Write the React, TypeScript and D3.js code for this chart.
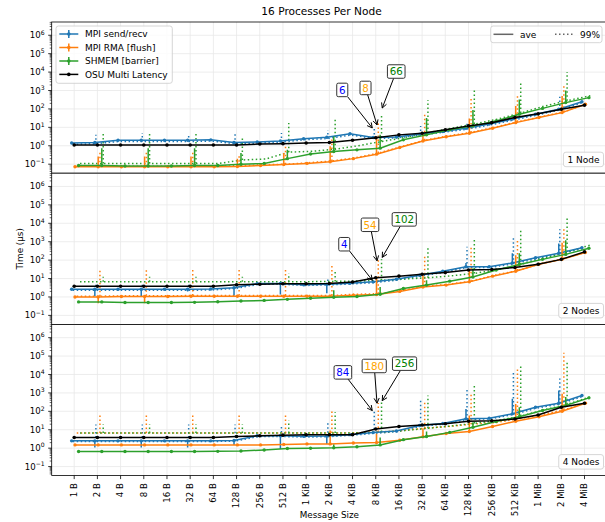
import React from 'react';
import * as d3 from 'd3';

// ---------------- DATA ----------------
const sizeLabels = ['1 B', '2 B', '4 B', '8 B', '16 B', '32 B', '64 B', '128 B', '256 B', '512 B',
  '1 KiB', '2 KiB', '4 KiB', '8 KiB', '16 KiB', '32 KiB', '64 KiB', '128 KiB', '256 KiB', '512 KiB',
  '1 MiB', '2 MiB', '4 MiB'];
const spikeIdx = [1, 3, 5, 7, 9, 11, 13, 15, 17, 19, 21];
const panelLabels = ['1 Node', '2 Nodes', '4 Nodes'];
const seriesNames = ['MPI send/recv', 'MPI RMA [flush]', 'SHMEM [barrier]', 'OSU Multi Latency'];
const styleNames = ['ave', '99%'];
const yTickExps = [-1, 0, 1, 2, 3, 4, 5, 6];

// 1 Node
const n1BlueAve = [1.4, 1.5, 2.0, 2.0, 2.0, 2.0, 2.1, 1.5, 1.6, 1.8, 2.4, 2.9, 4.5, 2.8, 3.0, 4.3, 6.0, 9, 15, 28, 51, 96, 245];
const n1BlueP99 = [1.2, 1.3, 1.7, 1.7, 1.7, 1.7, 1.8, 1.3, 1.4, 1.6, 2.1, 2.5, 3.8, 2.5, 2.7, 3.8, 5.4, 8, 13.5, 25, 46, 88, 225];
const n1OrangeAve = [0.072, 0.072, 0.072, 0.072, 0.072, 0.072, 0.072, 0.075, 0.085, 0.095, 0.11, 0.135, 0.2, 0.35, 0.8, 1.8, 3.1, 4.8, 9, 18, 34, 63, 178];
const n1OrangeP99 = [0.078, 0.078, 0.078, 0.078, 0.078, 0.078, 0.078, 0.082, 0.092, 0.1, 0.12, 0.15, 0.22, 0.4, 0.9, 2.0, 3.4, 5.3, 10, 20, 37, 70, 190];
const n1GreenAve = [0.085, 0.085, 0.08, 0.08, 0.08, 0.085, 0.085, 0.1, 0.11, 0.2, 0.36, 0.49, 0.6, 0.74, 2.1, 3.9, 7.3, 12, 22, 51, 107, 220, 410];
const n1GreenP99 = [0.11, 0.11, 0.11, 0.11, 0.11, 0.11, 0.11, 0.17, 0.19, 0.45, 0.5, 0.65, 1.0, 1.7, 2.8, 5, 9, 15, 28, 60, 140, 280, 520];
const n1Black = [1.1, 1.1, 1.1, 1.1, 1.1, 1.1, 1.1, 1.1, 1.25, 1.3, 1.4, 1.5, 2.0, 2.7, 3.9, 4.8, 7.3, 12, 18, 34, 54, 96, 160];
const n1BlueAveSpike = [null, null, null, null, null, null, null, null, null, null, null];
const n1BlueP99Spike = [3.9, 5, 4.5, 4.5, 5, 7, 11, 12, 20, 45, 460];
const n1OrangeAveSpike = [0.26, 0.26, 0.26, 0.2, 0.4, 0.93, 3.2, 5, 30, 145, 500];
const n1OrangeP99Spike = [0.5, 0.5, 0.5, 0.3, 0.9, 2.5, 16.6, 57, 457, 560, 2000];
const n1GreenAveSpike = [0.74, 0.74, 0.74, 0.4, 0.6, 3.2, 4, 32, 87, 330, 1000];
const n1GreenP99Spike = [4.8, 4.5, 4.5, 2.6, 17, 32, 57, 300, 1150, 2450, 10000];
const n1AnnoText = ['6', '8', '66'];
const n1AnnoValue = [9.3, 13.5, 112];

// 2 Nodes
const n2BlueAve = [2.6, 2.6, 2.6, 2.6, 2.6, 2.6, 2.7, 3.2, 5.3, 5.4, 4.6, 4.9, 5.6, 6.6, 9.1, 15, 25, 44, 44, 70, 135, 235, 470];
const n2BlueP99 = [2.3, 2.3, 2.3, 2.3, 2.3, 2.3, 2.4, 2.9, 4.8, 4.9, 4.2, 4.5, 5.1, 6.0, 8.3, 13.5, 22, 40, 40, 63, 120, 210, 430];
const n2OrangeAve = [1.0, 1.0, 1.05, 1.05, 1.05, 1.1, 1.1, 1.1, 1.1, 1.1, 1.1, 1.1, 1.25, 1.35, 2.0, 3.5, 4.4, 6.6, 13.5, 25, 60, 110, 260];
const n2OrangeP99 = [1.1, 1.1, 1.15, 1.15, 1.15, 1.2, 1.2, 1.2, 1.2, 1.2, 1.2, 1.2, 1.4, 1.5, 2.2, 3.8, 4.8, 7.2, 15, 27, 65, 120, 285];
const n2GreenAve = [0.54, 0.54, 0.5, 0.5, 0.5, 0.51, 0.55, 0.6, 0.65, 0.74, 0.85, 0.95, 1.05, 1.4, 2.9, 4.4, 7.2, 12, 29, 58, 110, 205, 440];
const n2GreenP99 = [6.6, 6.6, 6.6, 6.6, 6.6, 6.6, 6.6, 6.6, 6.6, 6.6, 6.8, 7, 7.3, 8, 9.5, 11, 14, 19, 30, 59, 130, 280, 660];
const n2Black = [3.8, 3.8, 3.8, 3.8, 3.8, 3.8, 3.8, 4.6, 4.9, 5.2, 5.2, 5.4, 6.5, 11, 13.5, 17, 21, 29, 31, 40, 60, 110, 280];
const n2BlueAveSpike = [1.1, 1.1, 2.0, 1.2, 1.35, 1.6, null, null, 70, 235, 810];
const n2BlueP99Spike = [5, 5, 5, 5, 5, 9, 10, 18.6, 540, 1860, 4800];
const n2OrangeAveSpike = [0.45, 0.45, null, null, null, null, 11, 18.6, 30, 186, 890];
const n2OrangeP99Spike = [29, 29, 29, 29, 29, 54, 110, 166, 540, 1500, 5400];
const n2GreenAveSpike = [null, null, null, null, null, 2.3, 3.5, 8, 35, 235, 1200];
const n2GreenP99Spike = [12.6, 12.6, 12.6, 12.6, 18.6, 25, 110, 440, 1350, 5400, 19000];
const n2AnnoText = ['4', '54', '102'];
const n2AnnoValue = [8.1, 92, 141];

// 4 Nodes
const n3BlueAve = [2.5, 2.5, 2.5, 2.5, 2.5, 2.5, 2.5, 2.6, 4.7, 4.7, 4.4, 4.6, 5.4, 7, 8.5, 17, 22, 39, 42, 73, 165, 275, 720];
const n3BlueP99 = [2.3, 2.3, 2.3, 2.3, 2.3, 2.3, 2.3, 2.4, 4.3, 4.3, 4.0, 4.2, 5.0, 6.4, 7.8, 15.5, 20, 36, 39, 67, 150, 255, 660];
const n3OrangeAve = [1.5, 1.5, 1.5, 1.5, 1.5, 1.5, 1.5, 1.5, 1.5, 1.6, 1.7, 1.7, 1.9, 2.0, 2.7, 4.2, 6.3, 8.1, 15, 29, 51, 100, 275];
const n3OrangeP99 = [6.6, 6.6, 6.6, 6.6, 6.6, 6.6, 6.6, 6.6, 6.6, 6.6, 6.6, 6.6, 6.8, 7.5, 9, 12, 15, 20, 24, 38, 65, 120, 300];
const n3GreenAve = [0.66, 0.66, 0.66, 0.66, 0.66, 0.66, 0.67, 0.7, 0.8, 0.96, 0.98, 1.05, 1.2, 1.5, 2.9, 4.3, 7.2, 13.5, 28, 51, 110, 205, 540];
const n3GreenP99 = [6.6, 6.6, 6.6, 6.6, 6.6, 6.6, 6.6, 6.6, 6.6, 6.6, 6.6, 6.6, 6.8, 7.5, 9, 12, 16, 22, 32, 55, 120, 240, 620];
const n3Black = [3.8, 3.8, 3.8, 3.8, 3.8, 3.8, 3.8, 4.3, 4.7, 5.1, 5.3, 5.3, 5.4, 11, 15, 18, 21, 29, 31, 38, 63, 165, 275];
const n3BlueAveSpike = [1.1, 1.1, 1.1, 1.5, 0.9, 1.7, null, 20, 135, 480, 1350];
const n3BlueP99Spike = [19, 19, 19, 19, 19, 25, 110, 420, 1700, 13000, 6000];
const n3OrangeAveSpike = [null, null, null, null, null, 9, 6, 12, 59, 250, 890];
const n3OrangeP99Spike = [78, 78, 78, 78, 78, 135, 280, 310, 930, 21000, 150000];
const n3GreenAveSpike = [null, null, null, null, null, 1.6, 3.8, 8, 25, 165, 600];
const n3GreenP99Spike = [19, 19, 19, 19, 31, 89, 380, 720, 3200, 27000, 60000];
const n3AnnoText = ['84', '180', '256'];
const n3AnnoValue = [110, 277, 380];

// ---------------- STYLE / LAYOUT ----------------
const FONT = '"DejaVu Sans", sans-serif';
const AX_L = 51.7;
const AX_R = 607;
const panelTops = [22, 173.2, 324.4];
const PH = 151.2;
const yMin = Math.pow(10, -1.49);
const yMax = Math.pow(10, 6.72);
const COLORS = ['#1f77b4', '#ff7f0e', '#2ca02c'];
const ANNO_COLORS = ['blue', 'orange', 'green'];
const seriesOffsets = [{ ave: -0.11, p99: -0.065 }, { ave: 0.035, p99: 0.11 }, { ave: 0.19, p99: 0.25 }];
const annoXOff = [-0.15, 0.055, 0.28];
const annoOffsets = [
  [[-30, -38], [-11.5, -37], [14, -36.5]],
  [[-28, -36], [-7, -36], [22, -38]],
  [[-29.4, -38.2], [-2.8, -37.2], [22.3, -37]],
];
const LW = 1.5;
const DOT = '1.5,2.5';
const TICK_FS = 8.6;
const LEG_FS = 9;

const x = d3.scaleLinear().domain([-0.97, 22.97]).range([AX_L, AX_R]);

const CW: Record<string, number> = {
  '0': 0.636, '1': 0.636, '2': 0.636, '3': 0.636, '4': 0.636, '5': 0.636, '6': 0.636, '7': 0.636, '8': 0.636, '9': 0.636,
  ' ': 0.318, N: 0.748, o: 0.612, d: 0.635, e: 0.615, s: 0.521,
};
const textW = (s: string, fs: number) => [...s].reduce((a, c) => a + (CW[c] ?? 0.6), 0) * fs;

const panels = [
  {
    label: panelLabels[0], black: n1Black, annoText: n1AnnoText, annoValue: n1AnnoValue,
    series: [
      { ave: n1BlueAve, p99: n1BlueP99, aveSpike: n1BlueAveSpike, p99Spike: n1BlueP99Spike },
      { ave: n1OrangeAve, p99: n1OrangeP99, aveSpike: n1OrangeAveSpike, p99Spike: n1OrangeP99Spike },
      { ave: n1GreenAve, p99: n1GreenP99, aveSpike: n1GreenAveSpike, p99Spike: n1GreenP99Spike },
    ],
  },
  {
    label: panelLabels[1], black: n2Black, annoText: n2AnnoText, annoValue: n2AnnoValue,
    series: [
      { ave: n2BlueAve, p99: n2BlueP99, aveSpike: n2BlueAveSpike, p99Spike: n2BlueP99Spike },
      { ave: n2OrangeAve, p99: n2OrangeP99, aveSpike: n2OrangeAveSpike, p99Spike: n2OrangeP99Spike },
      { ave: n2GreenAve, p99: n2GreenP99, aveSpike: n2GreenAveSpike, p99Spike: n2GreenP99Spike },
    ],
  },
  {
    label: panelLabels[2], black: n3Black, annoText: n3AnnoText, annoValue: n3AnnoValue,
    series: [
      { ave: n3BlueAve, p99: n3BlueP99, aveSpike: n3BlueAveSpike, p99Spike: n3BlueP99Spike },
      { ave: n3OrangeAve, p99: n3OrangeP99, aveSpike: n3OrangeAveSpike, p99Spike: n3OrangeP99Spike },
      { ave: n3GreenAve, p99: n3GreenP99, aveSpike: n3GreenAveSpike, p99Spike: n3GreenP99Spike },
    ],
  },
];

function lineOf(vals: number[], off: number, y: d3.ScaleLogarithmic<number, number>) {
  return d3.line<number>().x((_, i) => x(i + off)).y((d) => y(d))(vals) || '';
}

function Annotation({ tx, ty, cx, cy, text, color }: any) {
  const fs = 10.3;
  const w = textW(text, fs) + 4.5;
  const h = 13.5;
  const dx = tx - cx, dy = ty - cy;
  const sx = dx !== 0 ? (w / 2) / Math.abs(dx) : Infinity;
  const sy = dy !== 0 ? (h / 2) / Math.abs(dy) : Infinity;
  const s = Math.min(sx, sy);
  const x0 = cx + dx * s, y0 = cy + dy * s;
  const len = Math.hypot(tx - x0, ty - y0);
  const ux = (tx - x0) / len, uy = (ty - y0) / len;
  const hl = 5, hw = 2.6;
  const bx = tx - ux * hl, by = ty - uy * hl;
  const p1 = [bx - uy * hw, by + ux * hw];
  const p2 = [bx + uy * hw, by - ux * hw];
  return (
    <g>
      <line x1={x0} y1={y0} x2={tx} y2={ty} stroke="#000" strokeWidth={1} />
      <polyline points={`${p1[0]},${p1[1]} ${tx},${ty} ${p2[0]},${p2[1]}`} fill="none" stroke="#000" strokeWidth={1} />
      <rect x={cx - w / 2} y={cy - h / 2} width={w} height={h} rx={1.5} fill="#fff" stroke="#333" strokeWidth={1} />
      <text x={cx} y={cy} dy="0.36em" textAnchor="middle" fontSize={fs} fill={color}>{text}</text>
    </g>
  );
}

function PanelView({ panel, pi }: any) {
  const top = panelTops[pi];
  const bottom = top + PH;
  const y = d3.scaleLog().domain([yMin, yMax]).range([bottom, top]);
  const clipId = `clip-${pi}`;
  const minor: number[] = [];
  for (let e = -2; e <= 6; e++) {
    for (let m = 2; m <= 9; m++) {
      const v = m * Math.pow(10, e);
      if (v > yMin && v < yMax) minor.push(v);
    }
  }
  const lblW = textW(panel.label, LEG_FS) + 8;
  return (
    <g>
      <defs>
        <clipPath id={clipId}>
          <rect x={AX_L} y={top} width={AX_R - AX_L} height={PH} />
        </clipPath>
      </defs>
      <rect x={AX_L} y={top} width={AX_R - AX_L} height={PH} fill="#fff" />
      <g stroke="#e8e8e8" strokeWidth={0.8}>
        {sizeLabels.map((_, i) => (
          <line key={'gx' + i} x1={x(i)} x2={x(i)} y1={top} y2={bottom} />
        ))}
        {yTickExps.map((e) => (
          <line key={'gy' + e} x1={AX_L} x2={AX_R} y1={y(Math.pow(10, e))} y2={y(Math.pow(10, e))} />
        ))}
      </g>
      <g clipPath={`url(#${clipId})`}>
        {panel.series.map((s: any, k: number) => {
          const off = seriesOffsets[k].p99;
          return (
            <g key={'p' + k} stroke={COLORS[k]} fill="none" strokeWidth={LW} strokeDasharray={DOT}>
              <path d={lineOf(s.p99, off, y)} />
              {spikeIdx.map((i, j) =>
                s.p99Spike[j] == null ? null : (
                  <line key={j} x1={x(i + off)} x2={x(i + off)} y1={y(s.p99[i])} y2={y(s.p99Spike[j])} />
                ))}
            </g>
          );
        })}
        {panel.series.map((s: any, k: number) => {
          const off = seriesOffsets[k].ave;
          return (
            <g key={'a' + k}>
              <path d={lineOf(s.ave, off, y)} stroke={COLORS[k]} fill="none" strokeWidth={LW} />
              {spikeIdx.map((i, j) =>
                s.aveSpike[j] == null ? null : (
                  <line key={j} x1={x(i + off)} x2={x(i + off)} y1={y(s.ave[i])} y2={y(s.aveSpike[j])}
                    stroke={COLORS[k]} strokeWidth={LW} />
                ))}
              {s.ave.map((v: number, i: number) => (
                <circle key={'m' + i} cx={x(i + off)} cy={y(v)} r={1.7} fill={COLORS[k]} />
              ))}
            </g>
          );
        })}
        <path d={lineOf(panel.black, 0, y)} stroke="#000" fill="none" strokeWidth={LW} />
        {panel.black.map((v: number, i: number) => (
          <circle key={'b' + i} cx={x(i)} cy={y(v)} r={1.8} fill="#000" />
        ))}
      </g>
      {panel.annoText.map((t: string, k: number) => {
        const tx = x(13 + annoXOff[k]);
        const ty = y(panel.annoValue[k]);
        const [ox, oy] = annoOffsets[pi][k];
        return <Annotation key={'an' + k} tx={tx} ty={ty} cx={tx + ox} cy={ty + oy} text={t} color={ANNO_COLORS[k]} />;
      })}
      <rect x={603.5 - lblW} y={bottom - 6.5 - 14.5} width={lblW} height={14.5} rx={2.5}
        fill="#fff" fillOpacity={0.8} stroke="#cccccc" strokeWidth={0.8} />
      <text x={603.5 - lblW / 2} y={bottom - 6.5 - 7.25} dy="0.36em" textAnchor="middle" fontSize={LEG_FS}>{panel.label}</text>
      <g stroke="#000" strokeWidth={0.8}>
        {yTickExps.map((e) => (
          <line key={'t' + e} x1={AX_L - 3.5} x2={AX_L} y1={y(Math.pow(10, e))} y2={y(Math.pow(10, e))} />
        ))}
        {minor.map((v, i) => (
          <line key={'mt' + i} x1={AX_L - 2} x2={AX_L} y1={y(v)} y2={y(v)} strokeWidth={0.6} />
        ))}
      </g>
      {yTickExps.map((e) => (
        <text key={'tl' + e} x={AX_L - 7} y={y(Math.pow(10, e))} dy="0.35em" textAnchor="end" fontSize={TICK_FS}>
          10<tspan fontSize={6.1} dy={-3.7}>{e < 0 ? '\u2212' + (-e) : String(e)}</tspan>
        </text>
      ))}
      <rect x={AX_L} y={top} width={AX_R - AX_L} height={PH} fill="none" stroke="#000" strokeWidth={0.8} />
    </g>
  );
}

function Legends() {
  const rows = [34, 47.5, 61, 74.4];
  return (
    <g>
      <rect x={56} y={26} width={116.3} height={57.3} rx={2.5} fill="#fff" fillOpacity={0.8} stroke="#cccccc" strokeWidth={0.8} />
      {seriesNames.map((n, k) => {
        const c = k < 3 ? COLORS[k] : '#000';
        const yy = rows[k];
        return (
          <g key={n}>
            <line x1={59.3} x2={78.3} y1={yy} y2={yy} stroke={c} strokeWidth={LW} />
            {k < 3 && <line x1={68.8} x2={68.8} y1={yy - 4} y2={yy + 4} stroke={c} strokeWidth={LW} />}
            <circle cx={68.8} cy={yy} r={1.8} fill={c} />
            <text x={85} y={yy} dy="0.36em" fontSize={LEG_FS}>{n}</text>
          </g>
        );
      })}
      <rect x={490.7} y={26} width={111.3} height={16.7} rx={2.5} fill="#fff" fillOpacity={0.8} stroke="#cccccc" strokeWidth={0.8} />
      <line x1={493.5} x2={513.3} y1={34.3} y2={34.3} stroke="#666" strokeWidth={LW} />
      <text x={520} y={34.3} dy="0.36em" fontSize={LEG_FS}>{styleNames[0]}</text>
      <line x1={555} x2={575} y1={34.3} y2={34.3} stroke="#666" strokeWidth={LW} strokeDasharray={DOT} />
      <text x={580} y={34.3} dy="0.36em" fontSize={LEG_FS}>{styleNames[1]}</text>
    </g>
  );
}

export default function App() {
  const bottom = panelTops[2] + PH;
  return (
    <svg width={605} height={522} viewBox="0 0 605 522"
      style={{ position: 'absolute', left: 0, top: 0, background: '#fff' }} fontFamily={FONT}>
      <rect x={0} y={0} width={605} height={522} fill="#fff" />
      <text x={321.5} y={15} textAnchor="middle" fontSize={10.6}>16 Processes Per Node</text>
      {panels.map((p, pi) => <PanelView key={pi} panel={p} pi={pi} />)}
      <g stroke="#000" strokeWidth={0.8}>
        {sizeLabels.map((_, i) => (
          <line key={i} x1={x(i)} x2={x(i)} y1={bottom} y2={bottom + 3.5} />
        ))}
      </g>
      {sizeLabels.map((s, i) => (
        <text key={s} transform={`translate(${x(i)},${bottom + 7.5}) rotate(-90)`} textAnchor="end" dy="0.33em" fontSize={TICK_FS}>{s}</text>
      ))}
      <text x={(AX_L + AX_R) / 2} y={517.5} textAnchor="middle" fontSize={8.8}>Message Size</text>
      <text transform={`translate(20,${(panelTops[0] + bottom) / 2}) rotate(-90)`} textAnchor="middle" dy="0.35em" fontSize={8.8}>Time (μs)</text>
      <Legends />
    </svg>
  );
}
